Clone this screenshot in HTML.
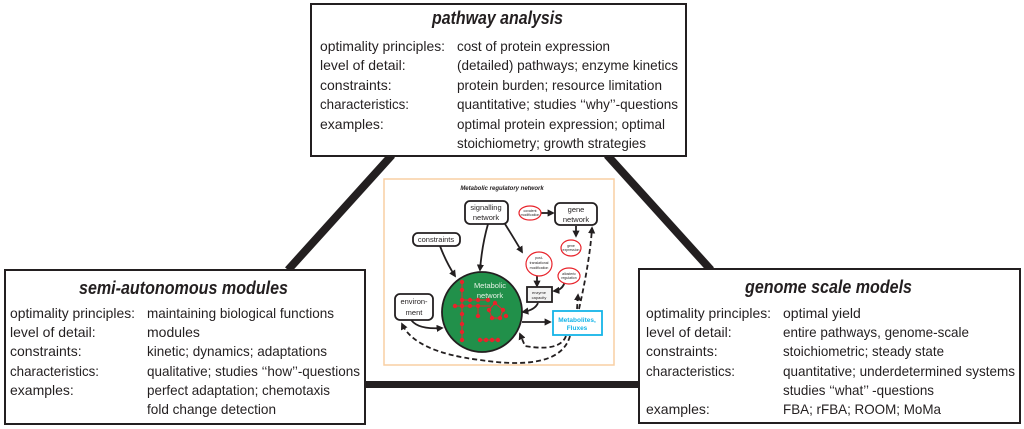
<!DOCTYPE html>
<html><head><style>
html,body{margin:0;padding:0;background:#fff;}
svg{display:block;}
text{font-family:"Liberation Sans",sans-serif;fill:#231f20;}
.t{font-size:14px;}
.h{font-size:18px;font-weight:bold;font-style:italic;}
.s{font-size:7.5px;}
.r{font-size:3.5px;fill:#e8232b;}
</style></head><body>
<svg width="1024" height="429" viewBox="0 0 1024 429">
<line x1="392" y1="155" x2="288" y2="270" stroke="#231f20" stroke-width="8"/>
<line x1="607" y1="155" x2="711" y2="270" stroke="#231f20" stroke-width="8"/>
<rect x="360" y="381" width="285" height="7" fill="#231f20"/>

<rect x="311" y="4" width="375" height="152" fill="#fff" stroke="#231f20" stroke-width="2"/>
<text class="h" x="432" y="24" textLength="131" lengthAdjust="spacingAndGlyphs">pathway analysis</text>
<g class="t">
<text x="320" y="51" textLength="125" lengthAdjust="spacingAndGlyphs">optimality principles:</text>
<text x="457" y="51" textLength="153" lengthAdjust="spacingAndGlyphs">cost of protein expression</text>
<text x="320" y="70">level of detail:</text>
<text x="457" y="70" textLength="221" lengthAdjust="spacingAndGlyphs">(detailed) pathways; enzyme kinetics</text>
<text x="320" y="90">constraints:</text>
<text x="457" y="90" textLength="205" lengthAdjust="spacingAndGlyphs">protein burden; resource limitation</text>
<text x="320" y="109" textLength="89" lengthAdjust="spacingAndGlyphs">characteristics:</text>
<text x="457" y="109" textLength="221" lengthAdjust="spacingAndGlyphs">quantitative; studies ‘‘why’’-questions</text>
<text x="320" y="129">examples:</text>
<text x="457" y="129" textLength="208" lengthAdjust="spacingAndGlyphs">optimal protein expression; optimal</text>
<text x="457" y="148" textLength="189" lengthAdjust="spacingAndGlyphs">stoichiometry; growth strategies</text>
</g>

<rect x="5" y="270" width="360" height="154" fill="#fff" stroke="#231f20" stroke-width="2"/>
<text class="h" x="79" y="294" textLength="209" lengthAdjust="spacingAndGlyphs">semi-autonomous modules</text>
<g class="t">
<text x="10" y="318" textLength="125" lengthAdjust="spacingAndGlyphs">optimality principles:</text>
<text x="147" y="318" textLength="187" lengthAdjust="spacingAndGlyphs">maintaining biological functions</text>
<text x="10" y="337">level of detail:</text>
<text x="147" y="337">modules</text>
<text x="10" y="356">constraints:</text>
<text x="147" y="356" textLength="180" lengthAdjust="spacingAndGlyphs">kinetic; dynamics; adaptations</text>
<text x="10" y="376" textLength="89" lengthAdjust="spacingAndGlyphs">characteristics:</text>
<text x="147" y="376" textLength="213" lengthAdjust="spacingAndGlyphs">qualitative; studies ‘‘how’’-questions</text>
<text x="10" y="395">examples:</text>
<text x="147" y="395" textLength="183" lengthAdjust="spacingAndGlyphs">perfect adaptation; chemotaxis</text>
<text x="147" y="414" textLength="129" lengthAdjust="spacingAndGlyphs">fold change detection</text>
</g>

<rect x="639" y="269" width="381" height="154" fill="#fff" stroke="#231f20" stroke-width="2"/>
<text class="h" x="745" y="293" textLength="167" lengthAdjust="spacingAndGlyphs">genome scale models</text>
<g class="t">
<text x="646" y="318" textLength="125" lengthAdjust="spacingAndGlyphs">optimality principles:</text>
<text x="783" y="318">optimal yield</text>
<text x="646" y="337">level of detail:</text>
<text x="783" y="337" textLength="186" lengthAdjust="spacingAndGlyphs">entire pathways, genome-scale</text>
<text x="646" y="356">constraints:</text>
<text x="783" y="356" textLength="161" lengthAdjust="spacingAndGlyphs">stoichiometric; steady state</text>
<text x="646" y="376" textLength="89" lengthAdjust="spacingAndGlyphs">characteristics:</text>
<text x="783" y="376" textLength="232" lengthAdjust="spacingAndGlyphs">quantitative; underdetermined systems</text>
<text x="783" y="395" textLength="151" lengthAdjust="spacingAndGlyphs">studies ‘‘what’’ -questions</text>
<text x="646" y="414">examples:</text>
<text x="783" y="414" textLength="158" lengthAdjust="spacingAndGlyphs">FBA; rFBA; ROOM; MoMa</text>
</g>

<defs>
<marker id="a" markerWidth="4" markerHeight="4" refX="3" refY="2" orient="auto"><path d="M0,0 L4,2 L0,4 z" fill="#231f20"/></marker>
</defs>
<rect x="384" y="179" width="230" height="186" fill="#fff" stroke="#f9cfa3" stroke-width="1.5"/>
<text x="502" y="190" text-anchor="middle" style="font-size:6px;font-weight:bold;font-style:italic">Metabolic regulatory network</text>
<g fill="none" stroke="#231f20" stroke-width="1.8" marker-end="url(#a)">
<path d="M488,224 Q482,245 480,270"/>
<path d="M440,246 Q446,262 455,276"/>
<path d="M505,224 Q515,240 522,252"/>
<path d="M540,213 L553,213"/>
<path d="M576,226 L576,236"/>
<path d="M537,276 L537,286"/>
<path d="M565,281 Q563,290 554,291"/>
<path d="M538,303 Q535,310 523,312"/>
<path d="M410,318 Q416,330 442,328"/>
<path d="M522,322 L550,322"/>
</g>
<g fill="none" stroke="#231f20" stroke-width="1.8" stroke-dasharray="5,3">
<path d="M566,336 Q560,352 525,346 L520,334" marker-end="url(#a)"/>
<path d="M570,336 Q560,372 480,360 Q415,352 402,324" marker-end="url(#a)"/>
<path d="M579,309 Q590,260 592,228" marker-end="url(#a)"/>
<path d="M577,309 L578,295" marker-end="url(#a)"/>
</g>
<circle cx="482" cy="312" r="40" fill="#21904a" stroke="#231f20" stroke-width="1.8"/>
<text x="490" y="288" text-anchor="middle" style="font-size:7.5px;fill:#e6f2e6">Metabolic</text>
<text x="490" y="298" text-anchor="middle" style="font-size:7.5px;fill:#e6f2e6">network</text>
<g stroke="#e8232b" stroke-width="1" fill="#e8232b">
<line x1="462" y1="282" x2="462" y2="340"/>
<line x1="455" y1="306" x2="490" y2="306"/>
<line x1="462" y1="300" x2="488" y2="300"/>
<line x1="478" y1="306" x2="478" y2="316"/>
<line x1="480" y1="340" x2="498" y2="340"/>
<path d="M489,310 L495,303 L503,310 L500,318 L492,318 Z" fill="none"/>
<circle cx="462" cy="282" r="1.7"/><circle cx="462" cy="290" r="1.7"/><circle cx="462" cy="300" r="1.7"/>
<circle cx="462" cy="306" r="1.7"/><circle cx="462" cy="314" r="1.7"/><circle cx="462" cy="324" r="1.7"/>
<circle cx="462" cy="332" r="1.7"/><circle cx="462" cy="340" r="1.7"/><circle cx="455" cy="306" r="1.7"/>
<circle cx="470" cy="300" r="1.7"/><circle cx="478" cy="300" r="1.7"/><circle cx="488" cy="300" r="1.7"/>
<circle cx="470" cy="306" r="1.7"/><circle cx="478" cy="306" r="1.7"/><circle cx="489" cy="310" r="1.7"/>
<circle cx="495" cy="303" r="1.7"/><circle cx="503" cy="310" r="1.7"/><circle cx="500" cy="318" r="1.7"/>
<circle cx="492" cy="318" r="1.7"/><circle cx="506" cy="316" r="1.7"/><circle cx="478" cy="316" r="1.7"/>
<circle cx="480" cy="340" r="1.7"/><circle cx="486" cy="340" r="1.7"/><circle cx="492" cy="340" r="1.7"/><circle cx="498" cy="340" r="1.7"/>
</g>
<g fill="#fff" stroke="#231f20" stroke-width="1.8">
<rect x="465" y="201" width="43" height="23" rx="5"/>
<rect x="555" y="203" width="42" height="22" rx="5"/>
<rect x="413" y="233" width="47" height="13" rx="5"/>
<rect x="395" y="294" width="38" height="26" rx="5"/>
<rect x="527" y="287" width="25" height="15" fill="#f2f2f2"/>
<rect x="553" y="311" width="49" height="24" stroke="#14b4e8"/>
</g>
<g class="s" text-anchor="middle">
<text x="486" y="210">signalling</text><text x="486" y="220">network</text>
<text x="576" y="212">gene</text><text x="576" y="222">network</text>
<text x="436" y="242">constraints</text>
<text x="414" y="304">environ-</text><text x="414" y="315">ment</text>
<text x="539" y="294" style="font-size:4px">enzyme</text><text x="539" y="299" style="font-size:4px">capacity</text>
<text x="577" y="322" style="font-size:6.5px;fill:#14b4e8;font-weight:bold">Metabolites,</text>
<text x="577" y="330" style="font-size:6.5px;fill:#14b4e8;font-weight:bold">Fluxes</text>
</g>
<g fill="#fff" stroke="#e8232b" stroke-width="1.2">
<ellipse cx="530" cy="213" rx="11" ry="7"/>
<ellipse cx="571" cy="248" rx="10" ry="8"/>
<ellipse cx="539" cy="264" rx="13" ry="12"/>
<ellipse cx="569" cy="276" rx="11" ry="8"/>
</g>
<g class="r" text-anchor="middle">
<text x="530" y="212">covalent</text><text x="530" y="216">modification</text>
<text x="571" y="247">gene</text><text x="571" y="251">expression</text>
<text x="539" y="259">post-</text><text x="539" y="264">translational</text><text x="539" y="269">modification</text>
<text x="569" y="275">allosteric</text><text x="569" y="279">regulation</text>
</g>
</svg>
</body></html>
